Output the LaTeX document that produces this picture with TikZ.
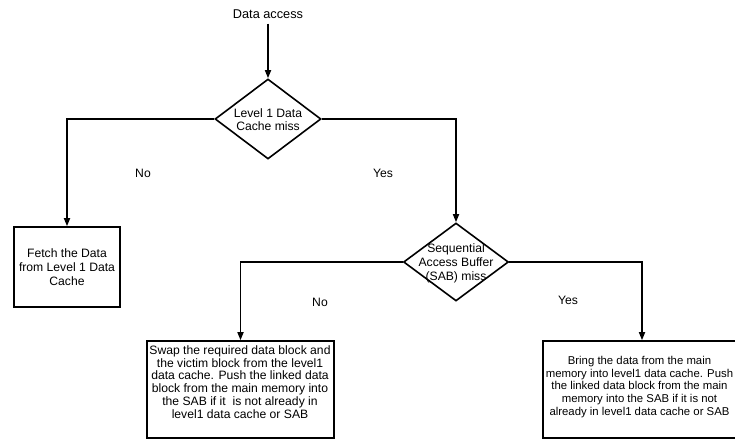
\documentclass[tikz,border=0pt]{standalone}
\usepackage{fontspec}
\setmainfont{Liberation Sans}
\usetikzlibrary{shapes.geometric,arrows.meta}
\begin{document}
\begin{tikzpicture}[x=1bp,y=-1bp,
  every node/.style={font=\fontsize{12.2}{12.8}\selectfont},
  arr/.style={line width=1.6bp,-{Triangle[length=8bp,width=6bp]}},
  decision/.style={draw,line width=1.6bp,diamond,minimum width=106bp,minimum height=80bp,inner sep=0pt},
  proc/.style={draw,line width=1.6bp,rectangle,inner sep=0pt,align=center},
  txt/.style={align=center,inner sep=0pt},
  lbl/.style={inner sep=1bp}]
\useasboundingbox (0,0) rectangle (735,441);
\clip (0,0) rectangle (735,441);
\node[lbl,font=\fontsize{12.8}{13}\selectfont] (start) at (268,14) {Data access};
\node[decision] (d1) at (268,119) {};
\node[txt] (t1) at (268,120) {Level 1 Data\\Cache miss};
\node[proc,minimum width=106bp,minimum height=80bp,font=\fontsize{12.2}{14}\selectfont] (b1) at (67,267) {Fetch the Data\\from Level 1 Data\\Cache};
\node[decision,minimum width=105bp,minimum height=78bp] (d2) at (456,262) {};
\node[txt,font=\fontsize{12.2}{14}\selectfont] (t2) at (456,263) {Sequential\\Access Buffer\\(SAB) miss};
\node[proc,minimum width=187bp,minimum height=97bp] (b3) at (240.5,389.5) {};
\node[txt] (t3) at (240,382) {Swap the required data block and\\the victim block from the level1\\data cache. Push the linked data\\block from the main memory into\\the SAB if it\ \ is not already in\\level1 data cache or SAB};
\node[proc,minimum width=205bp,minimum height=97bp] (b4) at (645.5,389.5) {};
\node[txt,font=\fontsize{11.4}{12.6}\selectfont] (t4) at (639.5,387) {Bring the data from the main\\memory into level1 data cache. Push\\the linked data block from the main\\memory into the SAB if it is not\\already in level1 data cache or SAB};
\node[lbl] (no1) at (143,173) {No};
\node[lbl] (yes1) at (383,173) {Yes};
\node[lbl] (no2) at (320,302) {No};
\node[lbl] (yes2) at (568,300) {Yes};
\coordinate (c1) at (b1.north |- d1.west);
\coordinate (c2) at (d2.north |- d1.east);
\coordinate (c3) at (b3.north |- d2.west);
\coordinate (c4) at (642,262);
\draw[arr] (start.south) ++(0,4) -- (d1.north);
\draw[arr] (d1.west) -- (c1) -- (b1.north);
\draw[arr] (d1.east) -- (c2) -- (d2.north);
\draw[arr] (d2.west) -- (c3) -- (b3.north);
\draw[arr] (d2.east) -- (c4) -- (c4 |- b4.north);
\end{tikzpicture}
\end{document}
